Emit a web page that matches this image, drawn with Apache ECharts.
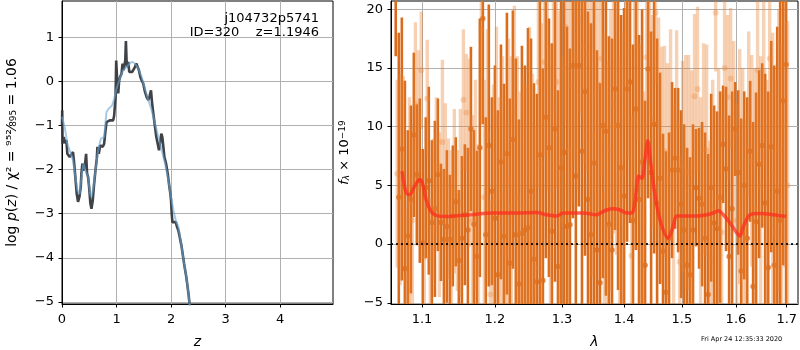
<!DOCTYPE html>
<html lang="en">
<head>
<meta charset="UTF-8">
<title>redshift fit</title>
<script src="https://cdn.jsdelivr.net/npm/echarts@6/dist/echarts.min.js"></script>
<style>
  html, body { margin: 0; padding: 0; background: #fff; }
  #chart { width: 800px; height: 350px; }
</style>
</head>
<body>
<div id="chart"></div>
<script>
// ---- left panel: log p(z) ----
var zTicks = [0, 1, 2, 3, 4];
var pTicks = [-5, -4, -3, -2, -1, 0, 1];
// dark curve (z, log p)
var pzDark = [
  [0.000,-1.00],[0.004,-0.65],[0.010,-1.41],[0.018,-1.33],[0.030,-1.26],[0.049,-1.30],[0.065,-1.40],
  [0.080,-1.33],[0.098,-1.64],[0.123,-1.60],[0.141,-1.71],[0.172,-1.67],[0.202,-1.60],[0.221,-1.83],
  [0.245,-2.17],[0.270,-2.55],[0.294,-2.73],[0.319,-2.62],[0.344,-2.39],[0.356,-2.09],[0.374,-1.86],
  [0.393,-2.02],[0.417,-1.94],[0.442,-1.64],[0.460,-2.09],[0.479,-2.17],[0.497,-2.39],[0.521,-2.77],
  [0.540,-2.89],[0.564,-2.70],[0.589,-2.32],[0.613,-2.02],[0.638,-1.75],[0.650,-1.48],[0.675,-1.64],
  [0.699,-1.45],[0.724,-1.45],[0.748,-1.48],[0.773,-1.41],[0.798,-1.11],[0.816,-0.92],[0.847,-0.92],
  [0.877,-0.88],[0.908,-0.84],[0.939,-0.88],[0.957,-0.77],[0.982,-0.35],[0.994,0.48],[1.012,0.03],
  [1.031,-0.27],[1.049,0.03],[1.067,0.11],[1.092,0.18],[1.110,0.41],[1.129,0.26],[1.141,0.33],
  [1.160,0.48],[1.172,0.92],[1.184,0.48],[1.202,0.33],[1.215,0.45],[1.233,0.22],[1.258,0.18],
  [1.288,0.22],[1.313,0.18],[1.337,0.33],[1.362,0.41],[1.387,0.37],[1.411,0.26],[1.436,0.11],
  [1.460,0.03],[1.491,-0.05],[1.521,-0.23],[1.552,-0.35],[1.583,-0.42],[1.607,-0.33],[1.632,-0.20],
  [1.650,-0.46],[1.675,-0.73],[1.706,-1.03],[1.730,-1.26],[1.755,-1.41],[1.779,-1.56],[1.804,-1.52],
  [1.822,-1.18],[1.840,-1.26],[1.859,-1.48],[1.877,-1.71],[1.908,-1.86],[1.939,-2.09],[1.969,-2.39],
  [1.988,-2.55],[2.000,-2.70],[2.012,-3.00],[2.025,-3.19],[2.061,-3.23],[2.086,-3.19],[2.110,-3.30],
  [2.135,-3.38],[2.190,-3.72],[2.240,-4.14],[2.280,-4.44],[2.320,-4.82],[2.360,-5.30]
];
// smooth blue curve
var pzSmooth = [
  [0.000,-0.80],[0.049,-1.03],[0.098,-1.41],[0.141,-1.56],[0.202,-1.79],[0.245,-2.17],[0.282,-2.47],
  [0.325,-2.55],[0.356,-2.17],[0.393,-1.86],[0.429,-2.02],[0.479,-2.17],[0.515,-2.55],[0.540,-2.62],
  [0.577,-2.39],[0.613,-2.02],[0.663,-1.56],[0.712,-1.30],[0.773,-1.26],[0.816,-0.69],[0.859,-0.61],
  [0.920,-0.54],[0.957,-0.39],[1.000,-0.16],[1.061,0.07],[1.123,0.26],[1.184,0.33],[1.245,0.41],
  [1.288,0.45],[1.337,0.41],[1.399,0.30],[1.460,0.11],[1.521,-0.16],[1.583,-0.42],[1.644,-0.65],
  [1.706,-0.95],[1.767,-1.26],[1.828,-1.56],[1.890,-1.86],[1.951,-2.24],[2.000,-2.62],[2.043,-2.92],
  [2.086,-3.15],[2.135,-3.30],[2.190,-3.72],[2.240,-4.14],[2.280,-4.44],[2.320,-4.82],[2.360,-5.30]
];

// ---- right panel: spectrum ----
var lamTicks = [1.1, 1.2, 1.3, 1.4, 1.5, 1.6, 1.7];
var fluxTicks = [-5, 0, 5, 10, 15, 20];
// [lambda, flux, err]
var specA = [
  [1.0660,28,12],[1.0699,4.0,14],[1.0738,8.1,11.2],[1.0777,-2.1,16],[1.0816,0.7,9],[1.0855,3.8,8],
  [1.0893,9.3,7],[1.0932,5.9,6],[1.0971,5.4,7],[1.1010,0.1,8],[1.1049,4.8,6],[1.1089,5.4,8],
  [1.1130,1.85,7],[1.1170,3.0,7.5],[1.1210,5.9,6.5],[1.1251,1.85,5],[1.1291,0.4,6],[1.1331,1.5,6.5],
  [1.1372,0.4,5.5],[1.1412,2.4,6],[1.1452,3.6,5.5],[1.1494,-1.4,6],[1.1536,0.5,7],[1.1577,2.5,6],
  [1.1619,1.2,7],[1.1661,9.8,7],[1.1703,1.7,8],[1.1745,-1.05,9],[1.1786,8.2,11],[1.1828,19.2,9],
  [1.1870,0.8,10],[1.1913,8.4,12],[1.1957,4.5,8],[1.2000,2.2,13],[1.2043,-2.6,14],[1.2087,7.0,10],
  [1.2130,0.65,13],[1.2173,7.7,12],[1.2216,-1.6,14],[1.2260,8.9,11],[1.2303,0.8,15],[1.2348,-3.4,14],
  [1.2393,0.9,16],[1.2438,1.2,14],[1.2483,1.4,17],[1.2528,4.5,13],[1.2572,-1.3,15],[1.2617,-3.2,16],
  [1.2662,7.6,14],[1.2707,-3.1,18],[1.2752,10.8,12],[1.2799,8.2,11],[1.2845,1.1,16],[1.2892,9.8,13],
  [1.2938,-1.9,15],[1.2985,6.5,16],[1.3031,7.8,14],[1.3078,1.5,17],[1.3124,1.65,15],[1.3171,15.2,13],
  [1.3217,5.8,16],[1.3265,15.2,12],[1.3314,7.9,15],[1.3362,13.0,14],[1.3410,3.8,16],[1.3458,0.8,18],
  [1.3506,6.9,15],[1.3555,-0.5,17],[1.3603,-3.3,17],[1.3651,10.1,13],[1.3700,9.6,14],[1.3750,1.7,16],
  [1.3800,-0.5,18],[1.3850,13.2,12],[1.3900,10.1,14],[1.3950,6.5,13],[1.4000,4.1,16],[1.4050,13.2,13],
  [1.4100,13.8,12],[1.4150,2.0,15],[1.4200,11.5,12],[1.4252,3.8,14],[1.4304,7.0,13],[1.4355,-1.8,14],
  [1.4407,14.9,11],[1.4459,6.1,12],[1.4511,10.2,11],[1.4563,3.5,14],[1.4614,5.6,9],[1.4666,-0.6,10],
  [1.4718,-4.1,12],[1.4772,0.5,9],[1.4825,6.3,7.5],[1.4879,7.3,6],[1.4933,6.3,7],[1.4986,3.4,8],
  [1.5040,1.2,9],[1.5094,-1.8,10],[1.5148,-2.6,10],[1.5201,1.2,9],[1.5255,4.8,5],[1.5311,3.9,6],
  [1.5366,3.4,7],[1.5422,0.5,9],[1.5478,-4.3,12],[1.5534,4.8,8],[1.5589,1.8,10],[1.5645,1.3,10],
  [1.5701,4.0,9],[1.5756,8.5,5],[1.5812,6.4,7],[1.5870,-1.05,12],[1.5927,3.0,10],[1.5985,9.8,4],
  [1.6043,6.1,7],[1.6100,-2.3,13],[1.6158,5.0,8],[1.6216,0.5,12],[1.6274,7.9,6],[1.6331,-3.6,14],
  [1.6389,1.9,11],[1.6449,6.8,8],[1.6509,8.4,7],[1.6568,3.5,11],[1.6628,-2.0,15],[1.6688,8.3,9],
  [1.6748,-1.8,17],[1.6808,4.5,14],[1.6867,2.0,20],[1.6927,12.2,14],[1.6987,15.3,22]
];
var specB = [
  [1.0679,6.0,8],[1.0718,5.5,9],[1.0757,7.3,7],[1.0796,-3.0,6],[1.0835,3.5,9],[1.0874,2.0,8],
  [1.0913,11.9,7],[1.0952,10.5,6],[1.0990,14.8,5],[1.1030,-1.1,5],[1.1069,12.4,5],[1.1109,-1.1,5],
  [1.1150,3.0,6],[1.1190,6.5,6],[1.1230,2.5,7],[1.1271,8.7,7],[1.1311,6.0,6],[1.1351,3.0,6],
  [1.1392,1.0,7],[1.1432,4.5,7],[1.1473,2.0,6],[1.1515,3.5,8],[1.1557,12.3,6],[1.1598,11.2,5],
  [1.1640,7.8,8],[1.1682,2.0,9],[1.1724,5.0,9],[1.1766,0.5,8],[1.1807,18.3,8],[1.1849,4.0,10],
  [1.1892,9.3,9],[1.1935,-4.3,8],[1.1979,3.6,10],[1.2022,10.5,8],[1.2065,1.5,11],[1.2109,4.0,12],
  [1.2152,-0.5,11],[1.2195,5.5,12],[1.2238,3.0,13],[1.2282,11.3,9],[1.2325,4.0,12],[1.2370,1.0,12],
  [1.2415,3.2,11],[1.2460,0.5,13],[1.2505,6.5,12],[1.2550,2.5,12],[1.2594,-2.0,12],[1.2639,13.8,9],
  [1.2684,6.8,12],[1.2729,15.5,8],[1.2775,13.6,9],[1.2822,3.0,14],[1.2868,11.7,10],[1.2915,13.8,9],
  [1.2961,6.9,13],[1.3008,2.0,14],[1.3054,18.5,8],[1.3101,8.0,13],[1.3147,13.5,10],[1.3194,15.9,9],
  [1.3241,14.6,10],[1.3289,19.1,8],[1.3338,16.9,10],[1.3386,16.2,10],[1.3434,12.3,12],[1.3482,9.2,12],
  [1.3530,12.8,11],[1.3579,13.6,11],[1.3627,15.8,10],[1.3675,4.0,14],[1.3725,1.5,14],[1.3775,8.0,12],
  [1.3825,11.9,11],[1.3875,10.1,11],[1.3925,3.0,13],[1.3975,6.0,12],[1.4025,18.0,8],[1.4075,16.3,9],
  [1.4125,-1.0,12],[1.4175,10.6,11],[1.4226,16.9,8],[1.4278,5.0,12],[1.4330,2.0,11],[1.4381,15.9,8],
  [1.4433,17.8,7],[1.4485,10.5,9],[1.4537,19.7,6],[1.4589,10.3,9],[1.4640,6.8,10],[1.4692,7.9,9],
  [1.4745,5.4,10],[1.4799,9.3,9],[1.4852,2.0,10],[1.4906,10.2,8],[1.4960,-1.5,9],[1.5013,6.6,9],
  [1.5067,6.1,10],[1.5121,6.1,10],[1.5175,3.8,11],[1.5228,12.6,7],[1.5283,13.2,7],[1.5339,2.5,10],
  [1.5394,8.1,9],[1.5450,8.0,9],[1.5506,-1.2,10],[1.5562,3.0,11],[1.5617,19.7,5],[1.5673,4.0,11],
  [1.5729,1.0,10],[1.5784,15.0,6],[1.5841,12.5,7],[1.5899,14.1,6],[1.5956,9.3,8],[1.6014,2.0,10],
  [1.6072,6.6,10],[1.6129,4.0,11],[1.6187,0.5,10],[1.6245,11.1,7],[1.6303,7.1,9],[1.6360,3.0,12],
  [1.6419,14.8,8],[1.6479,5.0,11],[1.6539,14.7,8],[1.6598,2.0,12],[1.6658,15.8,8],[1.6718,6.0,12],
  [1.6778,1.0,13],[1.6838,8.0,12],[1.6897,3.0,14],[1.6957,10.0,12],[1.7017,5.0,14]
];
// best-fit model (lambda, flux)
var model = [
  [1.0740,6.2],[1.0792,4.4],[1.0836,4.2],[1.0901,4.9],[1.0966,5.5],[1.1009,5.1],[1.1053,3.8],
  [1.1119,2.8],[1.1209,2.4],[1.1320,2.35],[1.1435,2.4],[1.1664,2.5],[1.1970,2.65],[1.2314,2.65],
  [1.2612,2.7],[1.2763,2.5],[1.2916,2.4],[1.3019,2.65],[1.3333,2.65],[1.3549,2.5],[1.3630,2.7],
  [1.3712,2.9],[1.3820,3.0],[1.3931,2.9],[1.4043,2.65],[1.4132,2.65],[1.4188,3.8],[1.4246,5.8],
  [1.4302,5.6],[1.4359,7.4],[1.4400,8.8],[1.4445,7.2],[1.4504,4.9],[1.4561,3.2],[1.4648,1.5],
  [1.4754,0.5],[1.4825,1.2],[1.4913,2.4],[1.5026,2.4],[1.5273,2.4],[1.5451,2.5],[1.5574,2.65],
  [1.5667,2.85],[1.5761,2.5],[1.5888,1.8],[1.6016,0.95],[1.6078,0.7],[1.6142,1.5],[1.6272,2.5],
  [1.6467,2.6],[1.6731,2.5],[1.6987,2.35]
];

var FONT = 'DejaVu Sans';
var DARK = '#d96c1c';
var PALE = 'rgba(232,128,48,0.36)';

function fmtMinus(v) { return String(v).replace('-', '\u2212'); }

function errBars(w, color) {
    return function (params, api) {
        var x = api.value(0), y = api.value(1), e = api.value(2);
        var hi = api.coord([x, y + e]);
        var lo = api.coord([x, y - e]);
        return {
            type: 'rect',
            shape: { x: hi[0] - w / 2, y: hi[1], width: w, height: lo[1] - hi[1] },
            style: { fill: color }
        };
    };
}

var gridLine = { show: true, lineStyle: { color: '#b0b0b0', width: 1 } };
var tick = { show: true, length: 3.5, lineStyle: { color: '#000' } };
var xLabel = { color: '#000', fontFamily: FONT, fontSize: 13, margin: 9 };
var yLabel = { color: '#000', fontFamily: FONT, fontSize: 13, margin: 8 };

var myChart = echarts.init(document.getElementById('chart'));
myChart.setOption({
    animation: false,
    textStyle: { fontFamily: FONT },
    grid: [
        { left: 62, top: 1, width: 271, height: 303, show: true, borderColor: '#000', borderWidth: 1,
          containLabel: false, outerBoundsMode: 'none' },
        { left: 391, top: 1, width: 407, height: 303, show: true, borderColor: '#000', borderWidth: 1,
          containLabel: false, outerBoundsMode: 'none' }
    ],
    xAxis: [
        {
            type: 'value', gridIndex: 0, min: 0, max: 4.97,
            axisLine: { onZero: false, lineStyle: { color: '#000' } },
            axisTick: Object.assign({ customValues: zTicks }, tick),
            axisLabel: Object.assign({ customValues: zTicks }, xLabel),
            splitLine: gridLine,
            name: 'z', nameLocation: 'middle', nameGap: 31,
            nameTextStyle: { fontFamily: FONT, fontSize: 14, fontStyle: 'italic', color: '#000' }
        },
        {
            type: 'log', gridIndex: 1, min: 1.06, max: 1.723,
            axisLine: { onZero: false, lineStyle: { color: '#000' } },
            axisTick: Object.assign({ customValues: lamTicks }, tick),
            axisLabel: Object.assign({ customValues: lamTicks, formatter: function (v) { return v.toFixed(1); } }, xLabel),
            splitLine: gridLine,
            name: 'λ', nameLocation: 'middle', nameGap: 31,
            nameTextStyle: { fontFamily: FONT, fontSize: 14, fontStyle: 'italic', color: '#000' }
        }
    ],
    yAxis: [
        {
            type: 'value', gridIndex: 0, min: -5.05, max: 1.83,
            axisLine: { onZero: false, lineStyle: { color: '#000' } },
            axisTick: Object.assign({ customValues: pTicks }, tick),
            axisLabel: Object.assign({ customValues: pTicks, formatter: fmtMinus }, yLabel),
            splitLine: gridLine,
            name: 'log {i|p}({i|z}) / χ² = ⁹⁵²⁄₈₉₅ = 1.06', nameLocation: 'middle', nameGap: 43,
            nameTextStyle: {
                fontFamily: FONT, fontSize: 14, color: '#000',
                rich: { i: { fontFamily: FONT, fontSize: 14, fontStyle: 'italic', color: '#000' } }
            }
        },
        {
            type: 'value', gridIndex: 1, min: -5.1, max: 20.7,
            axisLine: { onZero: false, lineStyle: { color: '#000' } },
            axisTick: Object.assign({ customValues: fluxTicks }, tick),
            axisLabel: Object.assign({ customValues: fluxTicks, formatter: fmtMinus }, yLabel),
            splitLine: gridLine,
            name: '{i|f}{sub|λ} × 10{sup|−19}', nameLocation: 'middle', nameGap: 40,
            nameTextStyle: {
                fontFamily: FONT, fontSize: 13, color: '#000',
                rich: {
                    i: { fontFamily: FONT, fontSize: 13, fontStyle: 'italic', color: '#000' },
                    sub: { fontFamily: FONT, fontSize: 9, fontStyle: 'italic', color: '#000', verticalAlign: 'bottom' },
                    sup: { fontFamily: FONT, fontSize: 9, color: '#000', verticalAlign: 'top' }
                }
            }
        }
    ],
    graphic: [
        { type: 'text', right: 481, top: 12, z: 100, style: { text: 'j104732p5741', font: '13px "DejaVu Sans"', fill: '#000', textAlign: 'right' } },
        { type: 'text', right: 481, top: 26, z: 100, style: { text: 'ID=320    z=1.1946', font: '13px "DejaVu Sans"', fill: '#000', textAlign: 'right' } },
        { type: 'text', left: 701, top: 336, style: { text: 'Fri Apr 24 12:35:33 2020', font: '6.5px "DejaVu Sans"', fill: '#000' } }
    ],
    series: [
        {
            type: 'line', xAxisIndex: 0, yAxisIndex: 0, data: pzDark, showSymbol: false,
            lineStyle: { color: '#35383c', width: 2.6, opacity: 0.95 }, clip: true, z: 2
        },
        {
            type: 'line', xAxisIndex: 0, yAxisIndex: 0, data: pzSmooth, showSymbol: false,
            lineStyle: { color: '#6aa6d6', width: 2, opacity: 0.6 }, clip: true, z: 3
        },
        {
            type: 'custom', xAxisIndex: 1, yAxisIndex: 1, data: specA, clip: true,
            encode: { x: 0, y: 1 }, renderItem: errBars(2.6, DARK), z: 2
        },
        {
            type: 'scatter', xAxisIndex: 1, yAxisIndex: 1, data: specA.map(function (r) { return [r[0], r[1]]; }),
            symbolSize: 5.5, itemStyle: { color: DARK }, clip: true, z: 3
        },
        {
            type: 'custom', xAxisIndex: 1, yAxisIndex: 1, data: specB, clip: true,
            encode: { x: 0, y: 1 }, renderItem: errBars(3.4, PALE), z: 4
        },
        {
            type: 'scatter', xAxisIndex: 1, yAxisIndex: 1, data: specB.map(function (r) { return [r[0], r[1]]; }),
            symbolSize: 6, itemStyle: { color: PALE }, clip: true, z: 5
        },
        {
            type: 'line', xAxisIndex: 1, yAxisIndex: 1, data: model, showSymbol: false, smooth: 0.3,
            lineStyle: { color: '#ff2a1f', width: 3.5, opacity: 0.72 }, clip: true, z: 6,
            markLine: {
                silent: true, symbol: 'none', label: { show: false },
                lineStyle: { color: '#000', type: [2, 3], width: 2, opacity: 0.85 },
                data: [{ yAxis: 0 }]
            }
        }
    ]
});
</script>
</body>
</html>
